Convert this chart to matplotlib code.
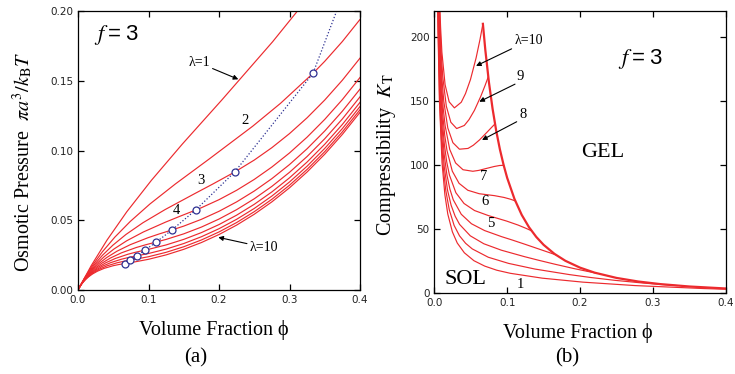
import matplotlib
matplotlib.use("Agg")
import matplotlib.pyplot as plt

plt.rcParams["mathtext.fontset"] = "stix"

RED = "#ec2a2e"
BLUE = "#2e3192"
SERIF = ["Liberation Serif", "DejaVu Serif"]

# ── (a) osmotic pressure vs volume fraction, lambda = 1..10 ──────────────────
osm_phi_1 = [0, 0.0185, 0.0412, 0.0692, 0.1042, 0.1481, 0.2041, 0.2761, 0.32, 0.3704]
osm_pi_1 = [0, 0.01726, 0.03585, 0.05614, 0.07875, 0.10479, 0.13642, 0.17818, 0.20566, 0.2404]

osm_phi_2 = [0, 0.0092, 0.0206, 0.0346, 0.0521, 0.0741, 0.1020, 0.1381, 0.1852, 0.2479, 0.2872, 0.3333,
             0.35, 0.375, 0.4]
osm_pi_2 = [0, 0.00858, 0.01771, 0.02743, 0.03786, 0.04918, 0.06171, 0.07609, 0.09368, 0.11758, 0.13394, 0.15547,
            0.16412, 0.17834, 0.19416]

osm_phi_3 = [0, 0.0062, 0.0137, 0.0231, 0.0347, 0.0494, 0.0680, 0.0920, 0.1235, 0.1653, 0.1915, 0.2222,
             0.25, 0.275, 0.3, 0.325, 0.35, 0.375, 0.4]
osm_pi_3 = [0, 0.00571, 0.01175, 0.01815, 0.02492, 0.03213, 0.03984, 0.04824, 0.05770, 0.06910, 0.07612, 0.08465,
            0.09324, 0.10214, 0.11223, 0.12360, 0.13634, 0.15056, 0.16638]

osm_phi_4 = [0, 0.0046, 0.0103, 0.0173, 0.0260, 0.0370, 0.0510, 0.0690, 0.0926, 0.1240, 0.1436, 0.1667,
             0.175, 0.2, 0.225, 0.25, 0.275, 0.3, 0.325, 0.35, 0.375, 0.4]
osm_pi_4 = [0, 0.00428, 0.00880, 0.01356, 0.01857, 0.02385, 0.02941, 0.03529, 0.04161, 0.04867, 0.05271, 0.05732,
            0.05904, 0.06481, 0.07156, 0.07935, 0.08825, 0.09834, 0.10971, 0.12245, 0.13667, 0.15249]

osm_phi_5 = [0, 0.0037, 0.0082, 0.0138, 0.0208, 0.0296, 0.0408, 0.0552, 0.0741, 0.0992, 0.1149, 0.1333,
             0.15, 0.175, 0.2, 0.225, 0.25, 0.275, 0.3, 0.325, 0.35, 0.375, 0.4]
osm_pi_5 = [0, 0.00342, 0.00703, 0.01082, 0.01480, 0.01897, 0.02331, 0.02782, 0.03252, 0.03750, 0.04018, 0.04310,
            0.04585, 0.05071, 0.05648, 0.06323, 0.07102, 0.07992, 0.09001, 0.10138, 0.11412, 0.12834, 0.14416]

osm_phi_6 = [0, 0.0031, 0.0069, 0.0115, 0.0174, 0.0247, 0.0340, 0.0460, 0.0617, 0.0826, 0.0957, 0.1111,
             0.125, 0.15, 0.175, 0.2, 0.225, 0.25, 0.275, 0.3, 0.325, 0.35, 0.375, 0.4]
osm_pi_6 = [0, 0.00285, 0.00585, 0.00901, 0.01231, 0.01574, 0.01930, 0.02295, 0.02668, 0.03048, 0.03242, 0.03445,
            0.03631, 0.04030, 0.04515, 0.05092, 0.05767, 0.06546, 0.07436, 0.08445, 0.09582, 0.10856, 0.12278, 0.13860]

osm_phi_7 = [0, 0.0026, 0.0059, 0.0099, 0.0149, 0.0212, 0.0292, 0.0394, 0.0529, 0.0708, 0.0821, 0.0952,
             0.1, 0.125, 0.15, 0.175, 0.2, 0.225, 0.25, 0.275, 0.3, 0.325, 0.35, 0.375, 0.4]
osm_pi_7 = [0, 0.00244, 0.00501, 0.00771, 0.01053, 0.01346, 0.01647, 0.01954, 0.02262, 0.02566, 0.02716, 0.02866,
            0.02917, 0.03234, 0.03633, 0.04118, 0.04695, 0.05370, 0.06149, 0.07039, 0.08049, 0.09185, 0.10459,
            0.11881, 0.13464]

osm_phi_8 = [0, 0.0023, 0.0051, 0.0087, 0.0130, 0.0185, 0.0255, 0.0345, 0.0463, 0.0620, 0.0718, 0.0833,
             0.1, 0.125, 0.15, 0.175, 0.2, 0.225, 0.25, 0.275, 0.3, 0.325, 0.35, 0.375, 0.4]
osm_pi_8 = [0, 0.00214, 0.00439, 0.00674, 0.00920, 0.01175, 0.01436, 0.01701, 0.01963, 0.02215, 0.02335, 0.02451,
            0.02619, 0.02936, 0.03335, 0.03821, 0.04398, 0.05073, 0.05852, 0.06742, 0.07751, 0.08888, 0.10162,
            0.11584, 0.13166]

osm_phi_9 = [0, 0.0021, 0.0046, 0.0077, 0.0116, 0.0165, 0.0227, 0.0307, 0.0412, 0.0551, 0.0638, 0.0741,
             0.1, 0.125, 0.15, 0.175, 0.2, 0.225, 0.25, 0.275, 0.3, 0.325, 0.35, 0.375, 0.4]
osm_pi_9 = [0, 0.00190, 0.00390, 0.00599, 0.00817, 0.01043, 0.01273, 0.01506, 0.01733, 0.01948, 0.02048, 0.02141,
            0.02388, 0.02705, 0.03104, 0.03589, 0.04166, 0.04841, 0.05620, 0.06510, 0.07519, 0.08656, 0.09930,
            0.11352, 0.12935]

osm_phi_10 = [0, 0.0018, 0.0041, 0.0069, 0.0104, 0.0148, 0.0204, 0.0276, 0.0370, 0.0496, 0.0574, 0.0667,
              0.075, 0.1, 0.125, 0.15, 0.175, 0.2, 0.225, 0.25, 0.275, 0.3, 0.325, 0.35, 0.375, 0.4]
osm_pi_10 = [0, 0.00171, 0.00351, 0.00539, 0.00735, 0.00937, 0.01144, 0.01350, 0.01552, 0.01739, 0.01823, 0.01899,
             0.01963, 0.02203, 0.02520, 0.02919, 0.03404, 0.03981, 0.04656, 0.05435, 0.06325, 0.07334, 0.08471,
             0.09745, 0.11167, 0.12749]

# gel points (open circles) and the dotted line through them
gel_phi = [0.0667, 0.0741, 0.0833, 0.0952, 0.1111, 0.1333, 0.1667, 0.2222, 0.3333]
gel_pi = [0.01899, 0.02141, 0.02451, 0.02866, 0.03445, 0.04310, 0.05732, 0.08465, 0.15547]
gel_line_phi = gel_phi + [0.3667]
gel_line_pi = gel_pi + [0.200]

# ── (b) compressibility vs volume fraction ───────────────────────────────────
kt_phi_1 = [0.0034, 0.0052, 0.0069, 0.0106, 0.0145, 0.0185, 0.0248, 0.0315, 0.0412, 0.0544, 0.0692, 0.0857,
            0.1042, 0.1481, 0.2041, 0.2761, 0.3704, 0.4]
kt_1 = [302.0, 202.0, 151.9, 101.9, 76.9, 61.8, 47.9, 39.2, 31.6, 25.4, 21.2, 18.0, 15.6, 11.8, 8.69, 6.00, 3.69, 3.17]

kt_phi_2 = [0.0035, 0.0053, 0.0072, 0.0092, 0.0124, 0.0158, 0.0206, 0.0272, 0.0346, 0.0429, 0.0521, 0.0741,
            0.1020, 0.1381, 0.1852, 0.2142, 0.2479, 0.2872, 0.3140, 0.3333]
kt_2 = [305.0, 205.0, 155.0, 125.0, 97.3, 80.0, 65.0, 52.9, 44.8, 39.0, 34.6, 28.1, 23.3, 18.9, 14.6, 12.35,
        10.1, 7.97, 6.76, 6.0]

kt_phi_3 = [0.0035, 0.0048, 0.0062, 0.0083, 0.0105, 0.0137, 0.0181, 0.0231, 0.0286, 0.0347, 0.0494, 0.0680,
            0.0920, 0.1235, 0.1428, 0.1653, 0.1915, 0.2093, 0.2222]
kt_3 = [308.1, 233.1, 188.2, 146.7, 120.8, 98.4, 80.5, 68.6, 60.1, 53.7, 44.8, 38.6, 33.6, 28.6, 25.8, 22.7,
        19.3, 17.2, 15.75]

kt_phi_4 = [0.0036, 0.0046, 0.0062, 0.0079, 0.0103, 0.0136, 0.0173, 0.0214, 0.0260, 0.0370, 0.0510, 0.0690,
            0.0926, 0.1071, 0.1240, 0.1436, 0.1570, 0.1667]
kt_4 = [311.3, 251.3, 196.1, 161.6, 131.8, 108.0, 92.3, 81.2, 72.9, 61.6, 54.2, 48.9, 44.1, 41.5, 38.3, 34.5,
        31.9, 30.0]

kt_phi_5 = [0.0029, 0.0037, 0.0050, 0.0063, 0.0082, 0.0109, 0.0138, 0.0171, 0.0208, 0.0296, 0.0408, 0.0552,
            0.0741, 0.0857, 0.0992, 0.1149, 0.1256, 0.1333]
kt_5 = [389.4, 314.5, 245.5, 202.4, 165.2, 135.6, 116.0, 102.2, 92.1, 78.4, 70.0, 64.5, 60.6, 58.6, 56.3, 53.2,
        50.7, 48.75]

kt_phi_6 = [0.0031, 0.0041, 0.0053, 0.0069, 0.0091, 0.0115, 0.0143, 0.0174, 0.0247, 0.0340, 0.0460, 0.0617,
            0.0714, 0.0826, 0.0957, 0.1047, 0.1111]
kt_6 = [377.7, 294.9, 243.2, 198.6, 163.1, 139.8, 123.3, 111.3, 95.2, 85.7, 80.3, 77.6, 76.9, 76.1, 74.7, 73.3, 72.0]

kt_phi_7 = [0.0035, 0.0045, 0.0059, 0.0078, 0.0099, 0.0122, 0.0149, 0.0212, 0.0292, 0.0394, 0.0529, 0.0612,
            0.0708, 0.0821, 0.0897, 0.0952]
kt_7 = [344.2, 284.0, 232.0, 190.7, 163.5, 144.4, 130.5, 112.1, 101.6, 96.3, 95.1, 95.8, 97.2, 98.8, 99.6, 99.75]

kt_phi_8 = [0.0039, 0.0051, 0.0068, 0.0087, 0.0107, 0.0130, 0.0185, 0.0255, 0.0345, 0.0463, 0.0536, 0.0620,
            0.0718, 0.0785, 0.0833]
kt_8 = [324.8, 265.4, 218.3, 187.2, 165.5, 149.7, 128.9, 117.4, 112.3, 112.9, 115.4, 119.5, 125.2, 129.2, 132.0]

kt_phi_9 = [0.0046, 0.0060, 0.0077, 0.0095, 0.0116, 0.0165, 0.0227, 0.0307, 0.0412, 0.0476, 0.0551, 0.0638,
            0.0698, 0.0741]
kt_9 = [298.8, 245.8, 211.0, 186.6, 168.8, 145.8, 133.3, 128.4, 130.8, 135.3, 142.6, 153.5, 162.1, 168.75]

kt_phi_10 = [0.0041, 0.0054, 0.0069, 0.0086, 0.0104, 0.0148, 0.0204, 0.0276, 0.0370, 0.0428, 0.0496, 0.0574,
             0.0628, 0.0667]
kt_10 = [332.2, 273.4, 234.7, 207.7, 188.0, 162.6, 149.2, 144.5, 148.9, 155.6, 166.5, 183.5, 198.0, 210.0]

# gel branch, shared by all curves beyond their gel point
env_phi = [0.0667, 0.07, 0.075, 0.08, 0.085, 0.09, 0.095, 0.1, 0.11, 0.12, 0.13, 0.14, 0.15, 0.165, 0.18, 0.2,
           0.22, 0.25, 0.28, 0.31, 0.35, 0.4]
env_kt = [210.0, 189.8, 164.4, 143.8, 126.6, 112.3, 100.3, 90.0, 73.6, 61.1, 51.5, 43.9, 37.8, 30.7, 25.3, 20.0,
          16.1, 12.0, 9.18, 7.18, 5.31, 3.75]

osm_curves = [(osm_phi_1, osm_pi_1), (osm_phi_2, osm_pi_2), (osm_phi_3, osm_pi_3), (osm_phi_4, osm_pi_4),
              (osm_phi_5, osm_pi_5), (osm_phi_6, osm_pi_6), (osm_phi_7, osm_pi_7), (osm_phi_8, osm_pi_8),
              (osm_phi_9, osm_pi_9), (osm_phi_10, osm_pi_10)]
kt_curves = [(kt_phi_1, kt_1), (kt_phi_2, kt_2), (kt_phi_3, kt_3), (kt_phi_4, kt_4), (kt_phi_5, kt_5),
             (kt_phi_6, kt_6), (kt_phi_7, kt_7), (kt_phi_8, kt_8), (kt_phi_9, kt_9), (kt_phi_10, kt_10)]

W, H = 735, 374
fig = plt.figure(figsize=(W / 100, H / 100), dpi=100)

ax1 = fig.add_axes([78 / W, 84 / H, 282 / W, 278.7 / H])
ax2 = fig.add_axes([434.3 / W, 80.7 / H, 291.4 / W, 282.3 / H])

arrow = dict(arrowstyle="-|>", color="black", lw=0.8, mutation_scale=7, shrinkA=0, shrinkB=0)
F3 = r"$f\;$=$\;$3"

# ── panel (a) ─────────────────────────────────────────────────────────────────
for x, y in osm_curves:
    ax1.plot(x, y, color=RED, lw=0.85)
ax1.plot(gel_line_phi, gel_line_pi, color=BLUE, lw=0.9, ls=(0, (1, 1.6)))
ax1.plot(gel_phi, gel_pi, ls="none", marker="o", ms=5, mfc="white", mec=BLUE, mew=0.9)

ax1.set_xlim(0, 0.4)
ax1.set_ylim(0, 0.2)
ax1.set_xticks([0, 0.1, 0.2, 0.3, 0.4])
ax1.set_xticklabels(["0.0", "0.1", "0.2", "0.3", "0.4"])
ax1.set_yticks([0, 0.05, 0.10, 0.15, 0.20])
ax1.set_yticklabels(["0.00", "0.05", "0.10", "0.15", "0.20"])

ax1.text(0.022, 0.183, F3, fontsize=16, family="Liberation Sans", va="center")
ax1.annotate("λ=1", xy=(0.2274, 0.1512), xytext=(0.1716, 0.163), fontsize=10, family=SERIF,
             ha="center", va="center", arrowprops=arrow)
ax1.annotate("λ=10", xy=(0.199, 0.0378), xytext=(0.2638, 0.0306), fontsize=10, family=SERIF,
             ha="center", va="center", arrowprops=arrow)
ax1.text(0.2369, 0.1215, "2", fontsize=10.5, family=SERIF, ha="center", va="center")
ax1.text(0.1745, 0.0789, "3", fontsize=10.5, family=SERIF, ha="center", va="center")
ax1.text(0.140, 0.0569, "4", fontsize=10.5, family=SERIF, ha="center", va="center")

# ── panel (b) ─────────────────────────────────────────────────────────────────
for x, y in kt_curves:
    ax2.plot(x, y, color=RED, lw=0.85)
ax2.plot(env_phi, env_kt, color=RED, lw=1.6)

ax2.set_xlim(0, 0.4)
ax2.set_ylim(0, 220)
ax2.set_xticks([0, 0.1, 0.2, 0.3, 0.4])
ax2.set_xticklabels(["0.0", "0.1", "0.2", "0.3", "0.4"])
ax2.set_yticks([0, 50, 100, 150, 200])

ax2.annotate("λ=10", xy=(0.0573, 177.2), xytext=(0.1295, 196.9), fontsize=10, family=SERIF,
             ha="center", va="center", arrowprops=arrow)
ax2.annotate("", xy=(0.0618, 149.3), xytext=(0.1108, 163), arrowprops=arrow)
ax2.annotate("", xy=(0.0655, 119.5), xytext=(0.1131, 133.7), arrowprops=arrow)
for lab, x, y in [("9", 0.1177, 168.8), ("8", 0.1213, 139), ("7", 0.0673, 91.4), ("6", 0.0696, 71.4),
                  ("5", 0.0774, 54.6), ("1", 0.1177, 6.5)]:
    ax2.text(x, y, lab, fontsize=10.5, family=SERIF, ha="center", va="center")
ax2.text(0.0421, 10.9, "SOL", fontsize=16, family=SERIF, ha="center", va="center")
ax2.text(0.2306, 109.6, "GEL", fontsize=16, family=SERIF, ha="center", va="center")
ax2.text(0.2824, 182.4, F3, fontsize=16, family="Liberation Sans", ha="center", va="center")

for ax in (ax1, ax2):
    ax.tick_params(direction="in", top=True, right=True, length=4.5, width=0.9, labelsize=7.5, pad=3.5,
                   labelcolor="#222222")
    for sp in ax.spines.values():
        sp.set_linewidth(0.9)

# ── axis titles placed in figure pixels ──────────────────────────────────────
fig.text(214 / W, 1 - 330 / H, "Volume Fraction ϕ", fontsize=14.5, family=SERIF, ha="center", va="center")
fig.text(195.5 / W, 1 - 358 / H, "(a)", fontsize=15, family=SERIF, ha="center", va="center")
fig.text(23 / W, 1 - 161.5 / H, r"Osmotic Pressure  $\pi a^3/k_{\rm B}T$", fontsize=14.5, family=SERIF,
         rotation=90, ha="center", va="center")
fig.text(578.3 / W, 1 - 333.3 / H, "Volume Fraction ϕ", fontsize=14.5, family=SERIF, ha="center", va="center")
fig.text(566.7 / W, 1 - 358.3 / H, "(b)", fontsize=15, family=SERIF, ha="center", va="center")
fig.text(386.7 / W, 1 - 155 / H, r"Compressibility  $K_{\rm T}$", fontsize=14.5, family=SERIF,
         rotation=90, ha="center", va="center")

fig.savefig("out.png", dpi=100)
